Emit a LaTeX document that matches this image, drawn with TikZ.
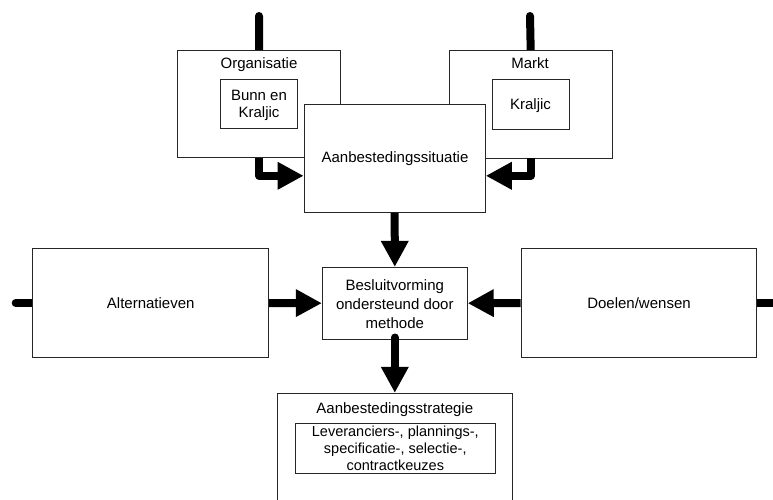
\documentclass[tikz,border=0pt]{standalone}
\usepackage{fontspec}
\setmainfont{Liberation Sans}
\usetikzlibrary{arrows.meta,calc}
\pgfdeclarelayer{under}
\pgfsetlayers{under,main}
\begin{document}
\begin{tikzpicture}[x=1pt,y=-1pt,
  box/.style={draw=black!85,line width=0.9pt,fill=white,rectangle,inner sep=0pt},
  lbl/.style={inner sep=0pt,align=center,font=\fontsize{15}{17.5}\selectfont},
  flow/.style={line width=8pt,line cap=butt,line join=round,
    -{Triangle[length=26pt,width=26pt]}},
  stub/.style={line width=8pt,line cap=round}]
\clip (0,0) rectangle (773,500);

% free ends of the feed lines
\coordinate (orgtop) at (259,16);
\coordinate (mkttop) at (530,16);
\coordinate (altend) at (15.7,303);
\coordinate (doelend) at (790,303);

% outer boxes
\path
  node[box,minimum width=163pt,minimum height=107pt] (org) at (259.2,104.2) {}
  node[box,minimum width=162.7pt,minimum height=107.3pt] (markt) at (530.7,104.3) {}
  node[box,minimum width=236pt,minimum height=108.3pt] (alt) at (150.7,303) {}
  node[box,minimum width=235pt,minimum height=108.3pt] (doel) at (638.5,303) {}
  node[box,minimum width=235pt,minimum height=216pt] (strat) at (394.8,501.3) {}
  node[box,minimum width=181.3pt,minimum height=108pt] (sit) at (394.7,158.3) {}
  node[box,minimum width=145pt,minimum height=71.7pt] (besl) at (394.8,303.2) {};

% feed lines, kept beneath the boxes
\begin{pgfonlayer}{under}
\draw[stub] (orgtop) -- (org.north);
\draw[stub] (mkttop) -- (markt.north);
\draw[stub] (altend) -- (alt.west);
\draw[stub] (doelend) -- (doel.east);
\end{pgfonlayer}

% flows between the boxes
\draw[flow] (org.south) |- ($(sit.west)+(0,17.5)$);
\draw[flow] (markt.south) |- ($(sit.east)+(0,17.5)$);
\draw[flow] (sit.south) -- (besl.north);
\draw[flow] (alt.east) -- (besl.west);
\draw[flow] (doel.west) -- (besl.east);
\draw[flow,line cap=round] ($(besl.south)+(0,-2)$) -- (strat.north);

% inner boxes
\node[box,minimum width=76.6pt,minimum height=49.4pt] (bunn) at (259,104) {};
\node[box,minimum width=77pt,minimum height=49.7pt] (kraljic) at (530.5,104.2) {};
\node[box,minimum width=199.3pt,minimum height=50pt] (stratin) at (395.3,448.3) {};

% texts
\node[lbl] (torg) at (259,65) {Organisatie};
\node[lbl] (tmarkt) at (530,63.5) {Markt};
\node[lbl] (tbunn) at (259,105.5) {Bunn en\\Kraljic};
\node[lbl] (tkraljic) at (530.5,106) {Kraljic};
\node[lbl] (tsit) at (395,159) {Aanbestedingssituatie};
\node[lbl] (talt) at (150.7,303) {Alternatieven};
\node[lbl] (tdoel) at (639,303) {Doelen/wensen};
\node[lbl,font=\fontsize{15}{19}\selectfont] (tbesl) at (394.8,304) {Besluitvorming\\ondersteund door\\methode};
\node[lbl] (tstrat) at (394.8,409.3) {Aanbestedingsstrategie};
\node[lbl,font=\fontsize{14.5}{16.7}\selectfont] (tstratin) at (395.3,448.3) {Leveranciers-, plannings-,\\specificatie-, selectie-,\\contractkeuzes};
\end{tikzpicture}
\end{document}
